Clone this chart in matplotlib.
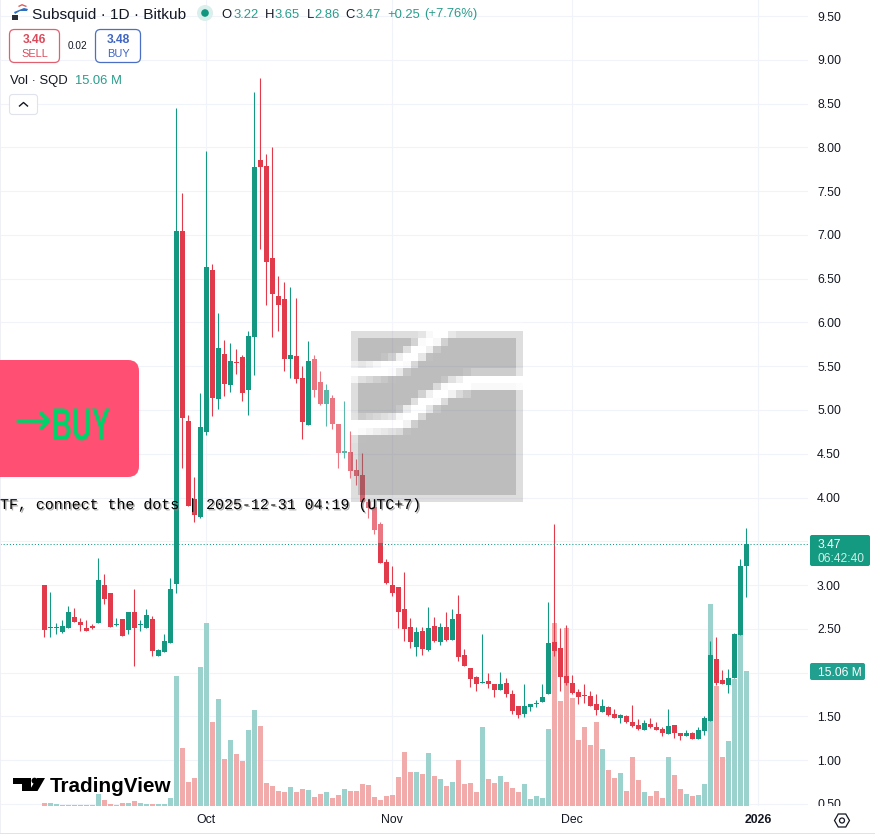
import numpy as np
import matplotlib
matplotlib.use('Agg')
from matplotlib import pyplot as plt
from matplotlib import patheffects as pe
from matplotlib.patches import Circle, FancyBboxPatch, Polygon, Rectangle, RegularPolygon
from matplotlib.transforms import Affine2D

# daily candles, first bar is 4 Sep
opens = [3.00, 2.51, 2.51, 2.46, 2.51, 2.63, 2.58, 2.51, 2.53, 2.57, 3.00, 2.91, 2.54, 2.61, 2.49, 2.69, 2.54, 2.51,
         2.61, 2.19, 2.24, 2.34, 3.01, 7.04, 4.87, 3.98, 3.78, 4.75, 6.60, 5.13, 5.64, 5.29, 5.55, 5.60, 5.23, 5.83,
         7.86, 7.79, 6.74, 6.30, 6.27, 5.58, 5.62, 5.37, 4.83, 5.58, 5.32, 5.07, 5.14, 4.84, 4.51, 4.52, 4.31, 4.26,
         3.95, 3.89, 3.70, 3.26, 3.00, 2.98, 2.73, 2.52, 2.29, 2.48, 2.26, 2.53, 2.35, 2.52, 2.37, 2.67, 2.20, 2.05,
         1.95, 1.88, 1.90, 1.87, 1.80, 1.88, 1.76, 1.62, 1.53, 1.61, 1.64, 1.67, 1.76, 2.35, 2.28, 1.96, 1.88, 1.78,
         1.74, 1.73, 1.64, 1.55, 1.61, 1.53, 1.48, 1.50, 1.44, 1.40, 1.35, 1.41, 1.38, 1.36, 1.30, 1.40, 1.31, 1.28,
         1.31, 1.24, 1.33, 1.45, 2.16, 1.92, 1.86, 1.94, 2.43, 3.22]
highs = [3.00, 2.92, 2.57, 2.60, 2.76, 2.74, 2.62, 2.60, 2.56, 3.31, 3.13, 2.91, 2.62, 2.61, 2.69, 2.96, 2.60, 2.73,
         2.65, 2.27, 2.44, 3.08, 8.45, 7.48, 4.94, 4.24, 5.19, 7.96, 6.67, 6.11, 5.80, 5.77, 5.70, 5.63, 5.90, 8.63,
         8.79, 7.92, 8.00, 6.53, 6.46, 6.40, 6.28, 5.50, 5.79, 5.63, 5.45, 5.30, 5.17, 4.84, 5.10, 4.76, 4.44, 4.51,
         3.98, 3.91, 3.72, 3.30, 3.22, 2.98, 3.15, 2.62, 2.52, 2.52, 2.75, 2.63, 2.57, 2.69, 2.73, 2.89, 2.27, 2.05,
         1.96, 2.44, 2.00, 1.87, 2.01, 1.94, 1.80, 1.62, 1.87, 1.64, 1.69, 1.87, 2.81, 3.70, 2.51, 2.54, 1.97, 1.81,
         1.87, 1.79, 1.76, 1.70, 1.62, 1.58, 1.53, 1.52, 1.63, 1.47, 1.46, 1.48, 1.44, 1.38, 1.58, 1.40, 1.31, 1.35,
         1.32, 1.38, 1.50, 2.36, 2.41, 2.03, 2.04, 2.45, 3.30, 3.65]
lows = [2.41, 2.41, 2.44, 2.45, 2.51, 2.58, 2.48, 2.48, 2.50, 2.57, 2.78, 2.52, 2.53, 2.42, 2.44, 2.08, 2.48, 2.51,
        2.19, 2.19, 2.24, 2.34, 2.91, 4.34, 3.90, 3.72, 3.77, 4.71, 4.93, 5.01, 5.16, 5.21, 5.41, 5.10, 4.94, 5.40,
        6.84, 6.20, 5.83, 5.90, 5.45, 5.37, 5.31, 4.67, 4.83, 5.15, 5.06, 4.82, 4.78, 4.34, 4.45, 4.22, 4.14, 3.95,
        3.77, 3.58, 3.25, 3.01, 2.88, 2.51, 2.36, 2.28, 2.19, 2.20, 2.25, 2.35, 2.32, 2.36, 2.37, 2.13, 2.08, 1.84,
        1.79, 1.88, 1.82, 1.72, 1.80, 1.72, 1.53, 1.48, 1.49, 1.56, 1.61, 1.67, 1.76, 2.19, 1.79, 1.86, 1.76, 1.64,
        1.65, 1.62, 1.52, 1.55, 1.50, 1.48, 1.42, 1.42, 1.38, 1.35, 1.35, 1.37, 1.35, 1.28, 1.30, 1.25, 1.23, 1.28,
        1.24, 1.24, 1.29, 1.45, 1.86, 1.87, 1.77, 1.94, 2.43, 2.86]
closes = [2.49, 2.52, 2.52, 2.53, 2.69, 2.58, 2.54, 2.48, 2.51, 3.06, 2.84, 2.52, 2.56, 2.42, 2.69, 2.51, 2.55, 2.66,
          2.25, 2.26, 2.36, 2.96, 7.04, 4.91, 3.90, 3.80, 4.81, 6.63, 5.14, 5.71, 5.30, 5.56, 5.54, 5.19, 5.85, 7.78,
          7.78, 6.69, 6.32, 6.20, 5.58, 5.63, 5.35, 4.86, 5.56, 5.23, 5.07, 5.23, 4.84, 4.51, 4.53, 4.30, 4.25, 3.95,
          3.88, 3.63, 3.25, 3.02, 2.91, 2.69, 2.50, 2.35, 2.46, 2.27, 2.51, 2.36, 2.52, 2.37, 2.61, 2.18, 2.08, 1.93,
          1.87, 1.89, 1.87, 1.80, 1.87, 1.76, 1.56, 1.52, 1.62, 1.64, 1.65, 1.72, 2.34, 2.25, 1.95, 1.88, 1.77, 1.72,
          1.73, 1.62, 1.57, 1.62, 1.52, 1.48, 1.52, 1.44, 1.39, 1.36, 1.42, 1.38, 1.35, 1.31, 1.39, 1.31, 1.28, 1.31,
          1.24, 1.35, 1.48, 2.20, 1.88, 1.87, 1.94, 2.44, 3.22, 3.47]
volumes = [0.28, 0.28, 0.17, 0.09, 0.09, 0.06, 0.06, 0.06, 0.06, 1.34, 0.67, 0.17, 0.09, 0.28, 0.28, 0.56, 0.28, 0.22,
           0.22, 0.17, 0.17, 0.89, 14.50, 6.47, 2.68, 3.12, 15.51, 20.42, 9.37, 11.94, 5.24, 7.36, 5.80, 5.02, 8.48,
           10.71, 8.92, 2.57, 2.23, 1.67, 1.56, 2.12, 1.56, 1.90, 1.78, 1.00, 1.34, 1.56, 0.89, 1.23, 1.90, 1.67, 1.67,
           2.45, 2.34, 1.00, 0.67, 1.12, 1.23, 3.24, 6.02, 3.79, 3.79, 3.57, 5.91, 3.35, 3.01, 2.23, 2.68, 5.13, 2.45,
           2.57, 1.56, 8.81, 3.01, 2.57, 3.35, 2.68, 2.01, 1.56, 2.45, 0.78, 1.12, 0.89, 8.59, 20.42, 11.71, 19.86,
           12.05, 7.36, 8.81, 6.81, 9.37, 6.36, 4.02, 3.12, 3.68, 1.67, 5.47, 2.90, 1.56, 1.12, 1.67, 0.89, 5.47, 3.46,
           1.90, 1.34, 1.12, 1.23, 2.45, 22.54, 13.39, 5.47, 7.25, 14.17, 19.08, 15.06]

price_ticks = [0.5 + 0.5 * i for i in range(19)]
# 2.00 and 3.50 sit under the tags, the reference does not show them
price_labels = ['' if p in (2.0, 3.5) else '%.2f' % p for p in price_ticks]
month_pos = [27, 58, 88, 119]
month_labels = ['Oct', 'Nov', 'Dec', '2026']

GREEN = '#159882'
RED = '#E13B4B'
VOL_GREEN = '#9BD2CD'
VOL_RED = '#F0ABAA'
INK = '#131722'
GRID = '#F0F3FA'
TEAL_TEXT = '#2B9C8B'


class Stretch(pe.AbstractPathEffect):
    """squeeze a text horizontally around x0 (display pixels)"""
    def __init__(self, sx, x0):
        super().__init__()
        self.sx = sx
        self.x0 = x0

    def draw_path(self, renderer, gc, tpath, affine, rgbFace=None):
        squeeze = Affine2D().translate(-self.x0, 0).scale(self.sx, 1).translate(self.x0, 0)
        renderer.draw_path(gc, tpath, affine + squeeze, rgbFace)


plt.rcParams['font.family'] = ['Liberation Sans', 'DejaVu Sans']
W, H = 875, 835
fig = plt.figure(figsize=(W / 100, H / 100), dpi=100, facecolor='white')

# price pane, 1 bar = 6 px
ax = fig.add_axes([0, (H - 806) / H, 808 / W, 806 / H], facecolor='white')
x = np.arange(len(opens))
o, h, l, c = map(np.array, (opens, highs, lows, closes))
up = c >= o

vol_top = 15.06 * 806 / 135
ax.bar(x, np.array(volumes) / vol_top, width=5 / 6, color=[VOL_GREEN if u else VOL_RED for u in up],
       transform=ax.get_xaxis_transform(), zorder=1)
candle_colors = [GREEN if u else RED for u in up]
ax.vlines(x, l, h, colors=candle_colors, lw=0.8, zorder=3)
ax.bar(x, np.maximum(np.abs(c - o), 0.012), bottom=np.minimum(o, c), width=5 / 6, color=candle_colors, zorder=4)
ax.axhline(closes[-1], color=GREEN, lw=0.75, ls=(0, (1, 2)), zorder=5)

ax.set_xlim(-44.3 / 6, (808 - 44.3) / 6)
ax.set_ylim(9.683 - 0.011422 * 806, 9.683)
ax.set_xticks(month_pos)
ax.set_xticklabels([])
ax.set_yticks(price_ticks)
ax.set_yticklabels(price_labels, fontsize=8.8, color=INK)
ax.yaxis.tick_right()
ax.tick_params(length=0, pad=6.5)
ax.grid(True, color=GRID, lw=0.75)
ax.set_axisbelow(True)
for s in ax.spines.values():
    s.set_visible(False)

# time scale sits on top so it clips the 0.50 label
ax_time = fig.add_axes([0, 2 / H, 1, 27 / H], facecolor='white', zorder=3)
ax_time.set_xlim(-44.3 / 6, (W - 44.3) / 6)
ax_time.set_yticks([])
ax_time.set_xticks(month_pos)
ax_time.set_xticklabels(month_labels, fontsize=8.8, color=INK)
ax_time.get_xticklabels()[-1].set_fontweight('bold')
ax_time.tick_params(length=0, pad=-14)
for s in ax_time.spines.values():
    s.set_visible(False)

# overlay in pixel coordinates for legend, tags and the chart drawings
ov = fig.add_axes([0, 0, 1, 1], zorder=10)
ov.set_xlim(0, W)
ov.set_ylim(H, 0)
ov.axis('off')


def box(x0, y0, x1, y1, r, fc='none', ec='none', lw=0.75, z=2):
    ov.add_patch(FancyBboxPatch((x0, y0), x1 - x0, y1 - y0, boxstyle='round,pad=0,rounding_size=%s' % r,
                                fc=fc, ec=ec, lw=lw, zorder=z))


def label(px, py, s, size, color=INK, ha='left', **kw):
    return ov.text(px, py, s, fontsize=size * 0.72, color=color, ha=ha, va='center_baseline', zorder=6, **kw)


# borders
ov.add_patch(Rectangle((0, 833), W, 1, fc='#E0E3EB', ec='none'))
ov.add_patch(Rectangle((0, 0), 1, 833, fc='#EEF0F5', ec='none'))

# white haze + blurry square logo over the candles
ov.add_patch(Rectangle((311, 320), 212, 223, fc='white', ec='none', alpha=0.3, zorder=1))
cells = 23
bx = 351 + (np.arange(cells) + 0.5) * 172 / cells
by = 331 + (np.arange(cells) + 0.5) * 171 / cells
gx, gy = np.meshgrid(bx, by)
alpha = np.full(gx.shape, 0.26)
alpha[0, :] = alpha[-1, :] = alpha[:, 0] = alpha[:, -1] = 0.13
band_a = [(351, 373), (395, 367), (416, 353), (443, 331)]
band_b = [(351, 428), (399, 423), (426, 403), (453, 387), (473, 382), (523, 382)]
for band in (band_a, band_b):
    dist = np.full(gx.shape, 1e9)
    for (ax0, ay0), (ax1, ay1) in zip(band[:-1], band[1:]):
        t = ((gx - ax0) * (ax1 - ax0) + (gy - ay0) * (ay1 - ay0)) / ((ax1 - ax0) ** 2 + (ay1 - ay0) ** 2)
        t = np.clip(t, 0, 1)
        dist = np.minimum(dist, np.hypot(gx - ax0 - t * (ax1 - ax0), gy - ay0 - t * (ay1 - ay0)))
    alpha = alpha * np.clip((dist - 4) / 8, 0, 1)
rgba = np.zeros(gx.shape + (4,))
rgba[..., 3] = alpha
ov.imshow(rgba, extent=(351, 523, 502, 331), interpolation='nearest', zorder=2, aspect='auto')
ov.set_xlim(0, W)
ov.set_ylim(H, 0)

# pink BUY drawing
box(-20, 360, 139, 477, 11, fc='#FF4F72')
ov.text(33, 423, '→', fontsize=33, color='#00D26A', ha='center', va='center', family='DejaVu Sans', zorder=6)
buy_text = ov.text(52, 440, 'BUY', fontsize=33, color='#00D26A', ha='left', va='baseline', fontweight='bold', zorder=6)
buy_text.set_path_effects([Stretch(0.6, 52)])

# pixel-ish text line
ov.text(0, 505, 'TF, connect the dots | 2025-12-31 04:19 (UTC+7)', fontsize=10.75, color='black', ha='left', va='center',
        family='Liberation Mono', zorder=6,
        path_effects=[pe.withSimplePatchShadow(offset=(1, -1), shadow_rgbFace='#888888', alpha=0.7)])

# header
ov.add_patch(Polygon([(18, 6), (22, 4), (27, 6), (26, 7), (22, 5.5), (19, 7)], fc='#E05A5A', ec='none'))
ov.add_patch(Polygon([(14, 12), (24, 8), (28, 9), (27, 11), (20, 11), (15, 14)], fc='#2E6FC0', ec='none'))
ov.add_patch(Rectangle((12, 15), 6, 5, fc='#2A2E39', ec='none'))
label(32, 13, 'Subsquid · 1D · Bitkub', 15.4)
ov.add_patch(Circle((205, 13), 8, fc='#D9EFEB', ec='none'))
ov.add_patch(Circle((205, 13), 3.8, fc='#10957E', ec='none'))
for px, s in [(221.7, 'O'), (265, 'H'), (306.7, 'L'), (345.7, 'C')]:
    label(px, 13, s, 13)
for px, s in [(233.3, '3.22'), (274, '3.65'), (314, '2.86'), (355.7, '3.47'), (387.3, '+0.25'), (424.3, '(+7.76%)')]:
    label(px, 13, s, 13, TEAL_TEXT)

box(9.5, 29.5, 59.5, 62.5, 5, fc='white', ec='#E0606F', lw=0.9)
label(34.5, 38.5, '3.46', 12, '#DB4A5B', ha='center', fontweight='bold')
label(34.5, 53, 'SELL', 11, '#DB4A5B', ha='center')
label(77, 45, '0.02', 10, ha='center')
box(95.5, 29.5, 140.5, 62.5, 5, fc='white', ec='#4A6FC4', lw=0.9)
label(118, 38.5, '3.48', 12, '#3F66C2', ha='center', fontweight='bold')
label(118, 53, 'BUY', 11, '#3F66C2', ha='center')

label(10, 79.5, 'Vol · SQD', 13)
label(75, 79.5, '15.06 M', 13, TEAL_TEXT)
box(9.5, 94.5, 37.5, 114.5, 3, fc='white', ec='#E0E3EB', lw=0.8)
ov.plot([19.5, 23.5, 27.5], [106, 102.5, 106], color=INK, lw=1, zorder=6)

# TradingView mark
ov.add_patch(Polygon([(13, 778), (31, 778), (31, 791), (22, 791), (22, 784), (13, 784)], fc='black', ec='none'))
ov.add_patch(Circle((34.5, 780.7), 3, fc='black', ec='none'))
ov.add_patch(Polygon([(37, 778), (45, 778), (37.5, 791), (29, 791)], fc='black', ec='none'))
label(50, 785, 'TradingView', 20.6, 'black', fontweight='bold')

# price scale tags
box(810, 535, 870, 566, 2, fc='#149A80')
label(818, 543.5, '3.47', 12, 'white')
label(818, 558, '06:42:40', 12, '#CFEDE7')
box(810, 663, 865, 680, 2, fc='#22A08F')
label(818, 671.5, '15.06 M', 12, 'white')

# settings icon
ov.add_patch(RegularPolygon((842, 820.5), 6, radius=7.5, orientation=np.pi / 2, fc='none', ec=INK, lw=0.9, zorder=6))
ov.add_patch(Circle((842, 820.5), 2.5, fc='none', ec=INK, lw=0.9, zorder=6))

fig.savefig('out.png', dpi=100, facecolor='white')
